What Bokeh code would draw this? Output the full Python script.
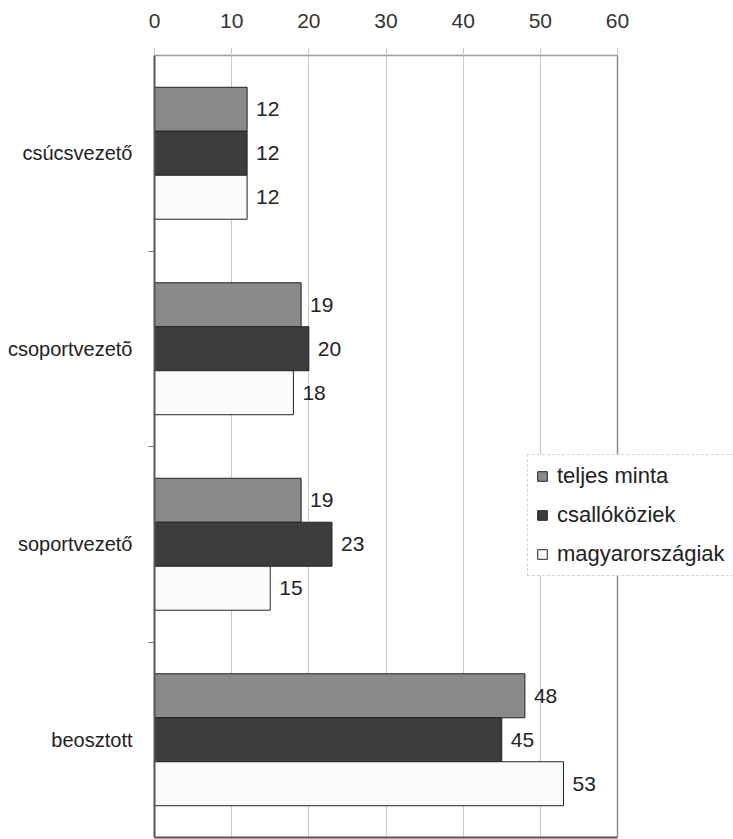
import numpy as np
from bokeh.plotting import figure
from bokeh.models import (Range1d, FixedTicker, ColumnDataSource, Legend, LegendItem,
                          LinearAxis, Span)
from bokeh.core.properties import value
from bokeh.embed import file_html
from bokeh.resources import INLINE

categories = ["csúcsvezető", "csoportvezetõ", "soportvezető", "beosztott"]
series_names = ["teljes minta", "csallóköziek", "magyarországiak"]
teljes_minta = [12, 19, 19, 48]
csallokoziek = [12, 20, 23, 45]
magyarorszagiak = [12, 18, 15, 53]
x_ticks = [0, 10, 20, 30, 40, 50, 60]

series_values = [teljes_minta, csallokoziek, magyarorszagiak]
fills = ["#8a8a8a", "#3d3d3d", "#fbfbfb"]
offsets = [-0.225, 0.0, 0.225]
bar_h = 0.225

FONT = "Liberation Sans"
n = len(categories)
centers = np.arange(n) + 0.5

W, H = 733, 839
LEFT, TOP, BOTTOM = 154, 55, 2
AXIS_MAX = 60
AXIS_PX = 463  # pixel length of the 0..60 axis
x_end = AXIS_MAX * (W - LEFT) / AXIS_PX  # frame extends right to hold the legend

p = figure(width=W, height=H, output_backend="svg", toolbar_location=None,
           x_range=Range1d(0, x_end), y_range=Range1d(n, 0),
           x_axis_location="above",
           min_border_left=LEFT, min_border_top=TOP, min_border_right=0, min_border_bottom=BOTTOM)
p.background_fill_color = "white"
p.border_fill_color = "white"
p.outline_line_color = None

renderers = []
for vals, fill, off, name in zip(series_values, fills, offsets, series_names):
    src = ColumnDataSource(dict(y=centers + off, right=vals, lab=[str(v) for v in vals]))
    r = p.hbar(y="y", left=0, right="right", height=bar_h, source=src,
               fill_color=fill, line_color="#222222", line_width=1)
    renderers.append((name, r))
    p.text(x="right", y="y", text="lab", source=src, x_offset=9,
           text_baseline="middle", text_align="left",
           text_font=value(FONT), text_font_size="21px", text_color="#222222")

# x axis (top)
xa = p.xaxis[0]
xa.ticker = FixedTicker(ticks=x_ticks)
xa.bounds = (0, AXIS_MAX)
xa.major_label_text_font = FONT
xa.major_label_text_font_size = "21px"
xa.major_label_text_color = "#333333"
xa.axis_line_color = "#9a9a9a"
xa.axis_line_width = 1.5
xa.major_tick_out = 8
xa.major_tick_in = 0
xa.major_tick_line_color = "#c8c8c8"
xa.minor_tick_line_color = None
xa.major_label_standoff = 20

# bottom frame line
xb = LinearAxis(ticker=FixedTicker(ticks=[]), bounds=(0, AXIS_MAX),
                axis_line_color="#555555", axis_line_width=2,
                major_tick_out=0, major_tick_in=0, minor_tick_out=0, minor_tick_in=0,
                major_label_standoff=0, major_label_text_font_size="0px")
p.add_layout(xb, "below")

# right frame line at 60
p.add_layout(Span(location=AXIS_MAX, dimension="height", line_color="#8c8c8c", line_width=1.5))

# y axis (left)
ya = p.yaxis[0]
ya.ticker = FixedTicker(ticks=list(centers), minor_ticks=list(np.arange(1, n)))
ya.major_label_overrides = {float(c): lab for c, lab in zip(centers, categories)}
ya.major_label_text_font = FONT
ya.major_label_text_font_size = "20px"
ya.major_label_text_color = "#222222"
ya.axis_line_color = "#555555"
ya.axis_line_width = 2
ya.major_tick_out = 0
ya.major_tick_in = 0
ya.minor_tick_out = 6
ya.minor_tick_in = 0
ya.minor_tick_line_color = "#777777"
ya.major_label_standoff = 16

p.xgrid.ticker = FixedTicker(ticks=x_ticks[1:-1])
p.xgrid.grid_line_color = "#c8c8c8"
p.ygrid.grid_line_color = None

legend = Legend(items=[LegendItem(label=nm, renderers=[r]) for nm, r in renderers],
                location=(373, 261))
legend.label_text_font = FONT
legend.label_text_font_size = "22px"
legend.label_text_color = "#222222"
legend.glyph_width = 12
legend.glyph_height = 12
legend.label_standoff = 9
legend.label_height = 24
legend.spacing = 13
legend.padding = 8
legend.margin = 0
legend.border_line_color = "#aaaaaa"
legend.border_line_dash = "2 2"
legend.background_fill_color = "white"
legend.background_fill_alpha = 1
p.add_layout(legend, "center")

open("out.html", "w").write(file_html(p, INLINE))
